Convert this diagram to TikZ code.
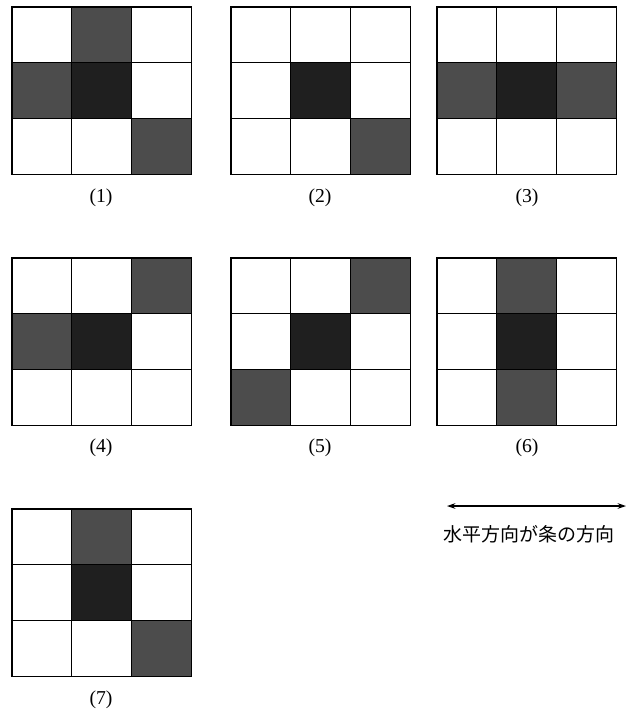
\documentclass[tikz,border=0pt]{standalone}
\usepackage{fontspec}
\setmainfont{Liberation Serif}
\newfontfamily\jpfont{Noto Sans CJK JP}
\usetikzlibrary{arrows.meta}

\begin{document}
\begin{tikzpicture}[x=0.025cm, y=-0.025cm, >={Stealth[length=6pt, width=4pt]}]
% --- Global Styles ---
\tikzstyle{gridline} = [line width=0.8pt, line cap=rect]
\tikzstyle{core} = [fill=black!88]
\tikzstyle{side} = [fill=black!70]
\tikzstyle{caption} = [font=\fontsize{14}{16}\selectfont]

% --- Cell size ---
\def\cw{59.7}   % cell width
\def\ch{55.7}   % cell height

% --- Panel Origin Coordinates ---
\def\xa{12}     % left column
\def\xb{231}    % middle column
\def\xc{437}    % right column
\def\ya{7}      % top row
\def\yb{258}    % middle row
\def\yc{509}    % bottom row

% fill one cell: origin x, origin y, column, row, style
\def\cellfill#1#2#3#4#5{\fill[#5] ({#1+#3*\cw}, {#2+#4*\ch}) rectangle ++(\cw, \ch);}
% 3x3 grid lines at origin x, origin y
\def\maskgrid#1#2{%
  \foreach \i in {0,1,2,3} {
    \draw[gridline] ({#1+\i*\cw}, #2) -- ++(0, {3*\ch});
    \draw[gridline] (#1, {#2+\i*\ch}) -- ++({3*\cw}, 0);
  }}

\useasboundingbox (0,0) rectangle (638,712);

% ==========================================
% TOP ROW: (1) (2) (3)
% ==========================================
\cellfill{\xa}{\ya}{1}{0}{side}
\cellfill{\xa}{\ya}{0}{1}{side}
\cellfill{\xa}{\ya}{1}{1}{core}
\cellfill{\xa}{\ya}{2}{2}{side}
\maskgrid{\xa}{\ya}
\node[caption] (lab1) at (101, 198) {(1)};

\cellfill{\xb}{\ya}{1}{1}{core}
\cellfill{\xb}{\ya}{2}{2}{side}
\maskgrid{\xb}{\ya}
\node[caption] (lab2) at (320, 198) {(2)};

\cellfill{\xc}{\ya}{0}{1}{side}
\cellfill{\xc}{\ya}{1}{1}{core}
\cellfill{\xc}{\ya}{2}{1}{side}
\maskgrid{\xc}{\ya}
\node[caption] (lab3) at (527, 198) {(3)};

% ==========================================
% MIDDLE ROW: (4) (5) (6)
% ==========================================
\cellfill{\xa}{\yb}{2}{0}{side}
\cellfill{\xa}{\yb}{0}{1}{side}
\cellfill{\xa}{\yb}{1}{1}{core}
\maskgrid{\xa}{\yb}
\node[caption] (lab4) at (101, 448) {(4)};

\cellfill{\xb}{\yb}{2}{0}{side}
\cellfill{\xb}{\yb}{1}{1}{core}
\cellfill{\xb}{\yb}{0}{2}{side}
\maskgrid{\xb}{\yb}
\node[caption] (lab5) at (320, 448) {(5)};

\cellfill{\xc}{\yb}{1}{0}{side}
\cellfill{\xc}{\yb}{1}{1}{core}
\cellfill{\xc}{\yb}{1}{2}{side}
\maskgrid{\xc}{\yb}
\node[caption] (lab6) at (527, 448) {(6)};

% ==========================================
% BOTTOM ROW: (7) and direction note
% ==========================================
\cellfill{\xa}{\yc}{1}{0}{side}
\cellfill{\xa}{\yc}{1}{1}{core}
\cellfill{\xa}{\yc}{2}{2}{side}
\maskgrid{\xa}{\yc}
\node[caption] (lab7) at (101, 700) {(7)};

% horizontal stripe direction
\coordinate (arrL) at (447, 506);
\coordinate (arrR) at (626, 506);
\draw[<->, thick] (arrL) -- (arrR);
\node[font=\jpfont\fontsize{13.5}{16}\selectfont] (note) at (529, 534) {水平方向が条の方向};

\end{tikzpicture}
\end{document}
